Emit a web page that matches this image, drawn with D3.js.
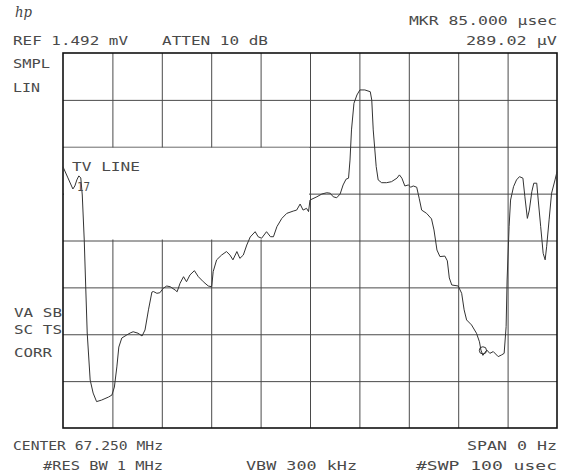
<!DOCTYPE html>
<html><head><meta charset="utf-8">
<script src="https://cdn.jsdelivr.net/npm/d3@7"></script>
<style>
body{margin:0;background:#fff}
svg{display:block}
text{font-family:"DejaVu Sans Mono",monospace;font-size:13px;fill:#4a4a4a}
</style></head><body>
<script>
// ---- data ----
const REF_UV = 1492;          // reference level (µV) = top graticule
const SWEEP_US = 100;         // sweep time (µs)
const xDivs = [10,20,30,40,50,60,70,80,90];           // µs grid lines
const yDivs = [1,2,3,4,5,6,7];                          // eighths of ref level
const markerTime = 85.0;      // µs
const markerLevel = 289.02;   // µV

const timeUs = [0.0,1.0,2.0,2.4,2.8,3.2,3.6,3.9,4.3,4.6,4.9,5.5,6.1,6.8,7.8,8.5,9.2,9.9,10.4,10.9,
11.3,11.9,12.9,13.6,14.2,15.2,16.0,16.6,17.3,18.0,18.3,19.0,19.6,20.3,21.0,21.7,22.7,23.1,23.7,24.4,
25.0,25.7,26.6,27.4,28.4,29.4,30.1,30.4,31.1,32.1,33.1,33.8,34.4,35.2,35.8,36.5,37.2,37.9,38.9,39.5,
40.2,41.2,42.0,42.6,43.3,44.3,45.3,46.6,47.3,48.0,48.6,49.3,49.7,50.0,51.4,52.4,53.4,54.1,54.7,55.4,
56.1,56.7,57.3,57.8,58.1,58.4,58.9,59.5,60.1,61.1,62.2,62.5,62.8,63.4,63.8,64.5,65.5,66.5,67.6,68.1,
68.6,69.2,69.9,70.4,70.9,71.6,72.1,72.6,73.6,74.6,75.1,75.7,76.3,77.3,77.8,78.2,78.7,80.0,80.7,81.2,
81.7,82.7,83.7,84.3,84.6,85.0,85.8,86.4,87.1,88.1,88.8,89.3,89.7,89.9,90.3,90.6,91.2,91.8,92.4,93.1,
93.5,94.0,94.4,94.9,95.3,95.9,96.2,96.7,97.2,97.6,97.9,98.4,98.9,99.6,100.0];
const levelUv = [1039,995,951,963,987,1003,995,927,748,561,378,191,139,105,111,117,123,131,163,243,
322,358,370,378,383,377,366,390,470,541,543,536,538,556,565,562,549,542,576,602,
582,609,626,602,582,565,562,622,669,688,702,688,669,702,675,688,728,760,781,761,
755,781,761,761,801,834,854,863,867,891,867,874,861,907,920,931,936,934,920,916,
931,967,990,994,1066,1186,1292,1325,1345,1345,1338,1305,1186,1040,987,976,976,980,994,1007,
994,963,967,958,963,958,914,867,854,832,788,708,682,684,665,597,569,565,536,470,
430,410,377,343,310,289,310,297,304,284,291,297,403,589,801,907,960,987,1000,994,
920,834,867,940,974,974,907,801,695,669,721,828,934,987,1020];

const labels = [
  {t:"REF 1.492 mV", x:13, y:45, w:115},
  {t:"ATTEN 10 dB", x:162, y:45, w:106},
  {t:"MKR 85.000 µsec", x:409, y:25, w:148},
  {t:"289.02 µV", x:466, y:45, w:91},
  {t:"SMPL", x:13, y:68, w:37},
  {t:"LIN", x:13, y:92, w:27},
  {t:"TV LINE", x:72, y:171, w:68},
  {t:"17", x:77, y:191, w:13},
  {t:"VA SB", x:14, y:317, w:48},
  {t:"SC TS", x:14, y:334, w:48},
  {t:"CORR", x:14, y:357, w:38},
  {t:"CENTER 67.250 MHz", x:13, y:450, w:150},
  {t:"SPAN 0 Hz", x:467, y:450, w:90},
  {t:"#RES BW 1 MHz", x:43, y:470, w:120},
  {t:"VBW 300 kHz", x:246, y:470, w:111},
  {t:"#SWP 100 usec", x:416, y:470, w:141}
];

// ---- layout ----
const W = 572, H = 474;
const L = 63, R = 557, T = 53, B = 428;

const svg = d3.select("body").append("svg").attr("width", W).attr("height", H);
svg.append("rect").attr("width", W).attr("height", H).attr("fill", "#fff");

const x = d3.scaleLinear().domain([0, SWEEP_US]).range([L, R]);
const y = d3.scaleLinear().domain([0, REF_UV]).range([B, T]);

// grid via axes
const gx = svg.append("g").attr("transform", `translate(0,${B})`)
  .call(d3.axisBottom(x).tickValues(xDivs).tickSize(-(B - T)).tickFormat(""));
gx.select(".domain").remove();
gx.selectAll("line").attr("stroke", "#4a4a4a").attr("stroke-width", 1);

const gy = svg.append("g").attr("transform", `translate(${L},0)`)
  .call(d3.axisLeft(y).tickValues(yDivs.map(d => REF_UV * d / 8)).tickSize(-(R - L)).tickFormat(""));
gy.select(".domain").remove();
gy.selectAll("line").attr("stroke", "#4a4a4a").attr("stroke-width", 1);

// white annotation box (TV LINE) covering grid
svg.append("rect")
  .attr("x", x(0) + 1).attr("y", y(REF_UV * 6 / 8) + 1)
  .attr("width", x(50) - x(0) - 2).attr("height", y(REF_UV * 4 / 8) - y(REF_UV * 6 / 8) - 2)
  .attr("fill", "#fff");

// border
svg.append("rect").attr("x", L).attr("y", T).attr("width", R - L).attr("height", B - T)
  .attr("fill", "none").attr("stroke", "#111").attr("stroke-width", 1.6);

// trace
const pts = timeUs.map((t, i) => [t, levelUv[i]]);
const line = d3.line().x(d => x(d[0])).y(d => y(d[1]));
svg.append("path").datum(pts).attr("d", line)
  .attr("fill", "none").attr("stroke", "#333").attr("stroke-width", 1)
  .attr("stroke-linejoin", "round");

// marker
svg.append("circle").attr("cx", x(markerTime)).attr("cy", y(markerLevel) - 5).attr("r", 3.6)
  .attr("fill", "none").attr("stroke", "#333").attr("stroke-width", 1);

// texts
svg.selectAll("text.lbl").data(labels).enter().append("text")
  .attr("class", "lbl")
  .attr("x", d => d.x).attr("y", d => d.y)
  .attr("textLength", d => d.w).attr("lengthAdjust", "spacingAndGlyphs")
  .text(d => d.t);

// hp logo
svg.append("text").attr("x", 15).attr("y", 17)
  .style("font-family", "'DejaVu Serif',serif").style("font-style", "italic")
  .style("font-size", "14px").style("fill", "#444")
  .attr("textLength", 17).attr("lengthAdjust", "spacingAndGlyphs")
  .text("hp");
</script>
</body></html>
